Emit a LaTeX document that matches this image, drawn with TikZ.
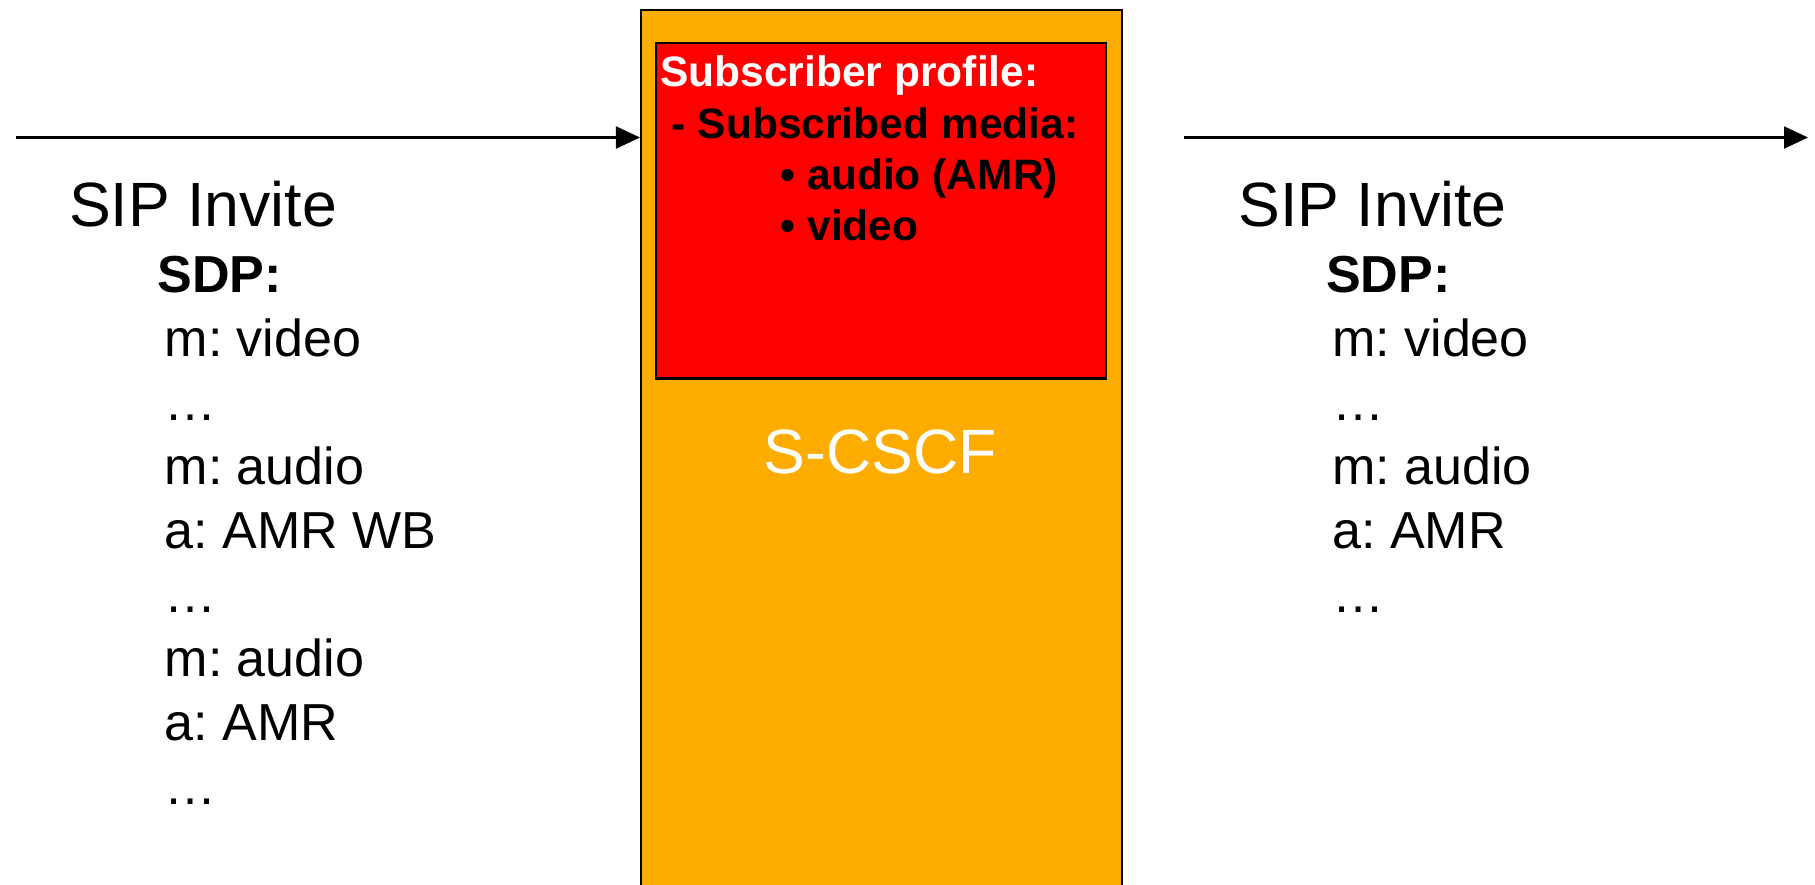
\documentclass[tikz,border=0pt]{standalone}
\usepackage{fontspec}
\setmainfont{Liberation Sans}
\usetikzlibrary{arrows.meta}
\frenchspacing

\definecolor{pomaranczowy}{RGB}{255,172,0}

\begin{document}
\begin{tikzpicture}[x=0.01cm,y=-0.01cm,
    txt/.style={anchor=base west,inner sep=0pt},
    duzy/.style={txt,font=\fontsize{17.8}{21}\selectfont},
    sdp/.style={txt,font=\fontsize{14.8}{18}\selectfont},
    sdpnaglowek/.style={txt,font=\fontsize{14.8}{18}\selectfont\bfseries},
    profil/.style={txt,font=\fontsize{12.1}{14}\selectfont\bfseries},
    pudlo/.style={draw,line width=0.6pt,inner sep=0pt,anchor=north west},
    strzalka/.style={line width=0.6pt,-{Triangle[length=0.24cm,width=0.22cm]}}]
    \useasboundingbox (0,0) rectangle (1815,885);

    % S-CSCF
    \node[pudlo,fill=pomaranczowy,minimum width=4.805cm,minimum height=8.9cm] (scscf) at (640,9.3) {};
    \node[duzy,anchor=base,text=white] (scscfnazwa) at (880,473) {S-CSCF};

    % Profil abonenta
    \node[pudlo,fill=red,minimum width=4.5cm,minimum height=3.356cm] (profil) at (655,41.7) {};
    \node[profil,text=white] (profil1) at (659.5,86.7) {Subscriber profile:};
    \node[profil] (profil2) at (671,138.3) {- Subscribed media:};
    \node[profil] (profil3) at (780,190) {• audio (AMR)};
    \node[profil] (profil4) at (780,240.7) {• video};

    % Strzalki
    \coordinate (wejscie) at (16,137.5);
    \draw[strzalka] (wejscie) -- (wejscie -| scscf.west);

    \coordinate (wyjscie) at (1184,137.5);
    \coordinate (koniec) at (1808,137.5);
    \draw[strzalka] (wyjscie) -- (koniec);

    % SIP Invite (wejscie)
    \node[duzy] (sipL) at (68.5,226) {SIP Invite};
    \node[sdpnaglowek] (sdpL) at (157,292) {SDP:};
    \foreach \t [count=\i from 0] in {m: video, …, m: audio, a: AMR WB, …, m: audio, a: AMR, …}
        \node[sdp] (L\i) at (164,{356+64*\i}) {\t};

    % SIP Invite (wyjscie)
    \node[duzy] (sipR) at (1238,226) {SIP Invite};
    \node[sdpnaglowek] (sdpR) at (1325.5,292) {SDP:};
    \foreach \t [count=\i from 0] in {m: video, …, m: audio, a: AMR, …}
        \node[sdp] (R\i) at (1331.5,{356+64*\i}) {\t};

\end{tikzpicture}
\end{document}
